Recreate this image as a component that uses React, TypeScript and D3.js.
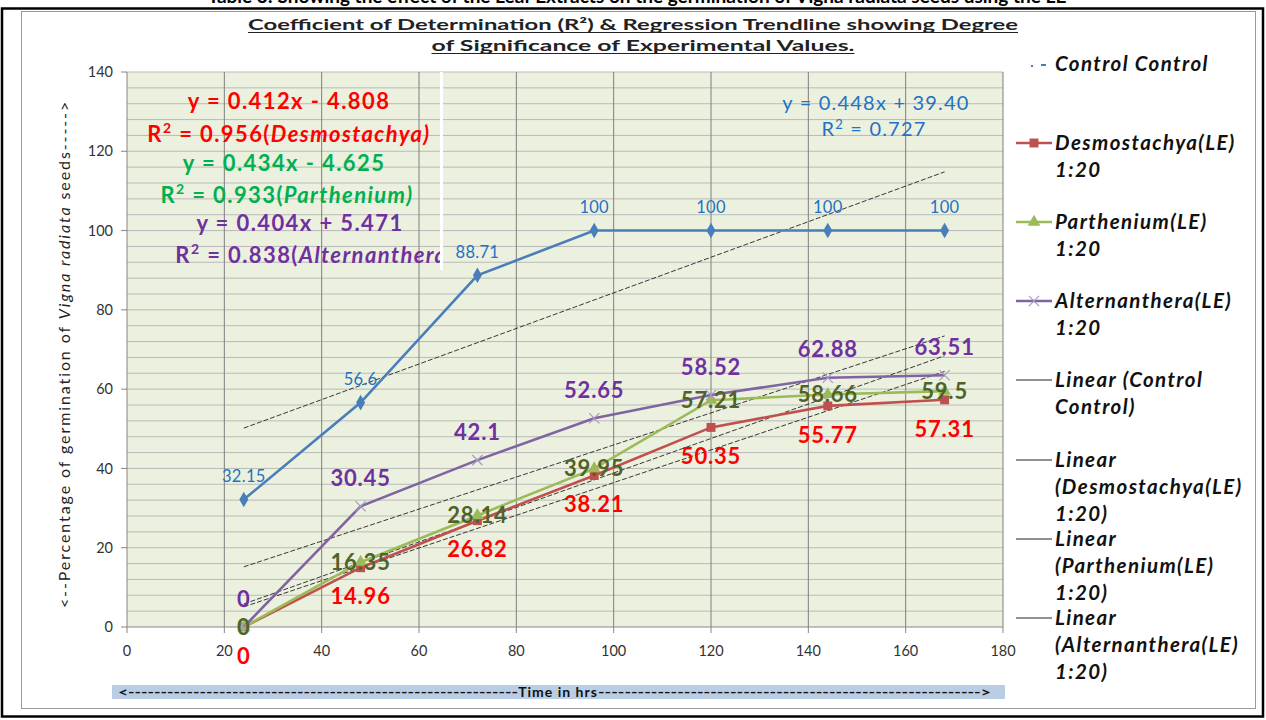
import React from "react";
import * as d3 from "d3";

const hours = [24, 48, 72, 96, 120, 144, 168];
const control = [32.15, 56.6, 88.71, 100, 100, 100, 100];
const desmo = [0, 14.96, 26.82, 38.21, 50.35, 55.77, 57.31];
const parth = [0, 16.35, 28.14, 39.95, 57.21, 58.66, 59.5];
const altern = [0, 30.45, 42.1, 52.65, 58.52, 62.88, 63.51];
const xTicks = [0, 20, 40, 60, 80, 100, 120, 140, 160, 180];
const yTicks = [0, 20, 40, 60, 80, 100, 120, 140];

const titleLines = [
  "Coefficient of Determination (R\u00B2)  & Regression Trendline  showing Degree",
  "of  Significance of Experimental  Values.",
];
const topCutText = "Table 3: Showing the effect of the Leaf Extracts on the germination of Vigna radiata seeds using the LE";

const legendItems = [
  { lines: ["Control Control"], kind: "control" },
  { lines: ["Desmostachya(LE)", "1:20"], kind: "desmo" },
  { lines: ["Parthenium(LE)", "1:20"], kind: "parth" },
  { lines: ["Alternanthera(LE)", "1:20"], kind: "altern" },
  { lines: ["Linear (Control", "Control)"], kind: "lin" },
  { lines: ["Linear", "(Desmostachya(LE)", "1:20)"], kind: "lin" },
  { lines: ["Linear", "(Parthenium(LE)", "1:20)"], kind: "lin" },
  { lines: ["Linear", "(Alternanthera(LE)", "1:20)"], kind: "lin" },
];
const legendY = [64, 143, 222, 301, 380, 460, 539, 618];

const FONT = "Lato, 'Open Sans', sans-serif";

const COL = {
  control: "#4a7ebb",
  desmo: "#c0504d",
  parth: "#9bbb59",
  altern: "#8064a2",
};
const LABEL_COL = {
  control: "#1f72c4",
  desmo: "#ff0000",
  parth: "#4f6228",
  altern: "#7030a0",
};

function linReg(xs: number[], ys: number[]) {
  const mx = d3.mean(xs) as number;
  const my = d3.mean(ys) as number;
  const sxy = d3.sum(xs, (x, i) => (x - mx) * (ys[i] - my));
  const sxx = d3.sum(xs, (x) => (x - mx) ** 2);
  const b = sxy / sxx;
  return { a: my - b * mx, b };
}

export default function App() {
  const W = 1266, H = 720;
  const x = d3.scaleLinear().domain([0, 180]).range([127, 1003]);
  const y = d3.scaleLinear().domain([0, 140]).range([627, 72]);
  const minor = d3.range(4, 141, 4);

  const series = [
    { key: "control", vals: control, dy: -23 },
    { key: "desmo", vals: desmo, dy: 29 },
    { key: "parth", vals: parth, dy: 0 },
    { key: "altern", vals: altern, dy: -28 },
  ] as const;

  const line = d3
    .line<number>()
    .x((_, i) => x(hours[i]))
    .y((d) => y(d));

  const diamond = d3.symbol().type(d3.symbolDiamond).size(70)() as string;
  const square = d3.symbol().type(d3.symbolSquare).size(80)() as string;
  const tri = d3.symbol().type(d3.symbolTriangle).size(70)() as string;
  const cross = d3.symbol().type(d3.symbolX).size(70)() as string;

  const marker = (key: string, cx: number, cy: number, k: number) => {
    if (key === "control")
      return <path key={k} d={diamond} transform={`translate(${cx},${cy})`} fill={COL.control} />;
    if (key === "desmo")
      return <path key={k} d={square} transform={`translate(${cx},${cy})`} fill={COL.desmo} />;
    if (key === "parth")
      return <path key={k} d={tri} transform={`translate(${cx},${cy})`} fill={COL.parth} />;
    return (
      <path key={k} d={cross} transform={`translate(${cx},${cy})`} fill="none" stroke="#a898c8" strokeWidth={1.2} />
    );
  };

  const trends = [control, desmo, parth, altern].map((v) => linReg(hours, v));
  const x0 = hours[0], x1 = hours[hours.length - 1];

  return (
    <svg width={W} height={H} style={{ position: "fixed", left: 0, top: 0 }} fontFamily={FONT}>
      <rect x={0} y={0} width={W} height={H} fill="#fff" />
      <defs>
        <clipPath id="eqclip">
          <rect x={127} y={72} width={313} height={200} />
        </clipPath>
        <clipPath id="topclip">
          <rect x={0} y={0} width={W} height={8} />
        </clipPath>
      </defs>
      {/* top cropped text */}
      <text x={637} y={3} textAnchor="middle" fontSize={19} fontWeight="bold" clipPath="url(#topclip)" fill="#000">
        {topCutText}
      </text>
      {/* outer border */}
      <rect x={2} y={8.5} width={1261} height={708} fill="none" stroke="#000" strokeWidth={2.5} />
      {/* chart frame */}
      <rect x={21.5} y={11.5} width={1234} height={697} fill="none" stroke="#9a9a9a" strokeWidth={1} />

      {/* title */}
      {titleLines.map((t, i) => {
        const cx = i === 0 ? 633 : 643;
        const w = i === 0 ? 770 : 423;
        const yy = i === 0 ? 30 : 51;
        return (
          <g key={i}>
            <text x={cx - w / 2} y={yy} fontSize={15} fontWeight="bold" fill="#222" textLength={w} lengthAdjust="spacingAndGlyphs">
              {t}
            </text>
            <line x1={cx - w / 2} x2={cx + w / 2} y1={yy + 2.5} y2={yy + 2.5} stroke="#222" strokeWidth={1} />
          </g>
        );
      })}

      {/* plot area */}
      <rect x={x(0)} y={y(140)} width={x(180) - x(0)} height={y(0) - y(140)} fill="#ebf1de" />
      {minor.map((v) => (
        <line key={"h" + v} x1={x(0)} x2={x(180)} y1={y(v)} y2={y(v)} stroke="#b4b4b4" strokeWidth={0.9} />
      ))}
      {xTicks.slice(1).map((v) => (
        <line key={"v" + v} x1={x(v)} x2={x(v)} y1={y(0)} y2={y(140)} stroke="#7f7f7f" strokeWidth={1} />
      ))}
      {/* axes */}
      <line x1={x(0)} x2={x(0)} y1={y(0)} y2={y(140)} stroke="#868686" strokeWidth={1} />
      <line x1={x(0)} x2={x(180)} y1={y(0)} y2={y(0)} stroke="#868686" strokeWidth={1} />
      {yTicks.map((v) => (
        <g key={"yt" + v}>
          <line x1={x(0) - 6} x2={x(0)} y1={y(v)} y2={y(v)} stroke="#868686" />
          <text x={x(0) - 14} y={y(v)} dy="0.35em" textAnchor="end" fontSize={14.5} fill="#333">
            {v}
          </text>
        </g>
      ))}
      {xTicks.map((v) => (
        <g key={"xt" + v}>
          <line x1={x(v)} x2={x(v)} y1={y(0)} y2={y(0) + 6} stroke="#868686" />
          <text x={x(v)} y={y(0) + 29} textAnchor="middle" fontSize={14.5} fill="#333">
            {v}
          </text>
        </g>
      ))}

      {/* equation box */}
      <g clipPath="url(#eqclip)" fontWeight="bold" textAnchor="middle" fontSize={22} letterSpacing={1.4}>
        <text x={289} y={109} fill="#ff0000">y = 0.412x - 4.808</text>
        <text x={289} y={142} fill="#ff0000">
          R<tspan dy={-9} fontSize={14}>2</tspan>
          <tspan dy={9}> = 0.956(</tspan>
          <tspan fontStyle="italic">Desmostachya)</tspan>
        </text>
        <text x={284} y={171} fill="#00b050">y = 0.434x - 4.625</text>
        <text x={287} y={203} fill="#00b050">
          R<tspan dy={-9} fontSize={14}>2</tspan>
          <tspan dy={9}> = 0.933(</tspan>
          <tspan fontStyle="italic">Parthenium)</tspan>
        </text>
        <text x={300} y={231} fill="#7030a0">y = 0.404x + 5.471</text>
        <text x={315} y={263} fill="#7030a0">
          R<tspan dy={-9} fontSize={14}>2</tspan>
          <tspan dy={9}> = 0.838(</tspan>
          <tspan fontStyle="italic">Alternanthera)</tspan>
        </text>
      </g>
      <rect x={440} y={72} width={3} height={198} fill="#ffffff" />

      {/* control equation */}
      <g textAnchor="middle" fontSize={20} fill="#1f72c4" letterSpacing={1.2}>
        <text x={876} y={110}>y = 0.448x + 39.40</text>
        <text x={874} y={136}>
          R<tspan dy={-7} fontSize={13}>2</tspan>
          <tspan dy={7}> = 0.727</tspan>
        </text>
      </g>

      {/* trendlines */}
      {trends.map((t, i) => (
        <line
          key={"tr" + i}
          x1={x(x0)}
          x2={x(x1)}
          y1={y(t.a + t.b * x0)}
          y2={y(t.a + t.b * x1)}
          stroke="#222"
          strokeWidth={0.9}
          strokeDasharray="5 2"
        />
      ))}

      {/* series */}
      {series.map((s) => (
        <g key={s.key}>
          <path d={line(s.vals as unknown as number[]) as string} fill="none" stroke={(COL as any)[s.key]} strokeWidth={2.6} />
          {s.vals.map((v, i) => marker(s.key, x(hours[i]), y(v), i))}
        </g>
      ))}

      {/* data labels */}
      {series.map((s) =>
        s.vals.map((v, i) => (
          <text
            key={s.key + "l" + i}
            x={x(hours[i])}
            y={y(v) + s.dy}
            dy="0.35em"
            textAnchor="middle"
            fontSize={s.key === "control" ? 16.5 : 22}
            letterSpacing={s.key === "control" ? 0.3 : 0.8}
            fontWeight={s.key === "control" ? "normal" : "bold"}
            fill={(LABEL_COL as any)[s.key]}
          >
            {v}
          </text>
        ))
      )}

      {/* y axis title */}
      <text transform="translate(70,354) rotate(-90)" textAnchor="middle" fontSize={16} letterSpacing={1.9} fill="#222">
        {"<--Percentage of germination of "}
        <tspan fontStyle="italic">Vigna radiata</tspan>
        {" seeds----->"}
      </text>

      {/* x axis title bar */}
      <rect x={112} y={685} width={893} height={14} fill="#b9cde5" />
      <text x={118} y={697} fontSize={13} fontWeight="bold" fill="#111" textLength={400} lengthAdjust="spacingAndGlyphs">
        {"<" + "-".repeat(60)}
      </text>
      <text x={558} y={697} fontSize={14} fontWeight="bold" fill="#111" textAnchor="middle" letterSpacing={1}>
        Time  in hrs
      </text>
      <text x={598} y={697} fontSize={13} fontWeight="bold" fill="#111" textLength={393} lengthAdjust="spacingAndGlyphs">
        {"-".repeat(58) + ">"}
      </text>

      {/* legend */}
      {legendItems.map((it, i) => {
        const ly = legendY[i];
        let sample: React.ReactNode;
        if (it.kind === "control") {
          sample = (
            <g>
              <rect x={1031} y={ly + 1} width={2} height={2} fill={COL.control} />
              <rect x={1041} y={ly} width={5} height={2} fill={COL.control} />
            </g>
          );
        } else if (it.kind === "lin") {
          sample = <line x1={1016} x2={1052} y1={ly} y2={ly} stroke="#222" strokeWidth={1} />;
        } else {
          sample = (
            <g>
              <line x1={1016} x2={1052} y1={ly} y2={ly} stroke={(COL as any)[it.kind]} strokeWidth={2.6} />
              {marker(it.kind, 1034, ly, 0)}
            </g>
          );
        }
        return (
          <g key={"lg" + i}>
            {sample}
            {it.lines.map((t, j) => (
              <text key={j} x={1055} y={ly + j * 27} dy="0.35em" fontSize={20.5} letterSpacing={1.4} fontWeight="bold" fontStyle="italic" fill="#111">
                {t}
              </text>
            ))}
          </g>
        );
      })}
    </svg>
  );
}
